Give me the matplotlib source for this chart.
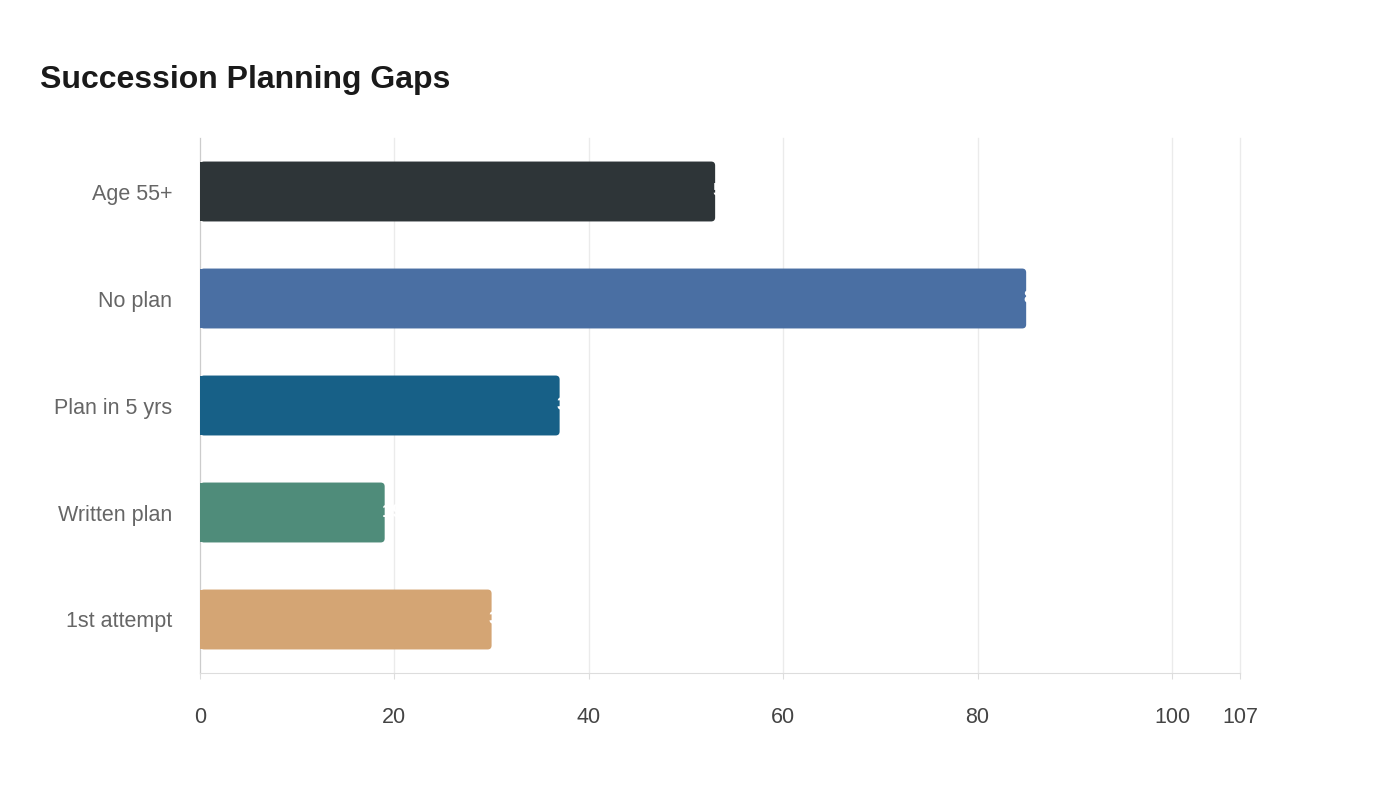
import numpy as np
import matplotlib.pyplot as plt
from matplotlib.patches import FancyBboxPatch

categories = ['Age 55+', 'No plan', 'Plan in 5 yrs', 'Written plan', '1st attempt']
values = [53, 85, 37, 19, 30]
colors = ['#2e3538', '#4a6fa3', '#176087', '#4f8c7a', '#d4a574']
xticks = [0, 20, 40, 60, 80, 100, 107]

plt.rcParams['font.family'] = ['Liberation Sans', 'DejaVu Sans']

fig = plt.figure(figsize=(14, 8), dpi=100)
ax = fig.add_axes([200/1400, 1-673/800, 1040/1400, 535/800])

y = np.arange(len(categories))
bars = ax.barh(y, values, height=0.56, color=colors)

# swap plain rectangles for ones with rounded corners
px_x = 1040 / 107
px_y = 535 / 5
r = 4 / px_x
for b, c in zip(bars, colors):
    x0, y0 = b.get_x(), b.get_y()
    w, h = b.get_width(), b.get_height()
    b.set_visible(False)
    p = FancyBboxPatch((x0 + r, y0 + r * px_x / px_y), w - 2*r, h - 2*r * px_x / px_y,
                       boxstyle='round,pad=%f' % r, mutation_aspect=px_x / px_y,
                       facecolor=c, edgecolor='none', zorder=3)
    ax.add_patch(p)
    ax.add_patch(plt.Rectangle((0, y0), r * 2, h, facecolor=c, edgecolor='none', zorder=3))

# value labels sit at the bar end, white (mostly lost on the background)
for yi, v in zip(y, values):
    ax.annotate(str(v), (v, yi), xytext=(-3, 0), textcoords='offset pixels',
                color='white', fontsize=14, fontweight='bold',
                ha='left', va='center', zorder=4)

ax.set_xlim(0, 107)
ax.set_ylim(4.5, -0.5)
ax.set_yticks(y)
ax.set_yticklabels(categories, fontsize=15.5, color='#666666')
ax.set_xticks(xticks)
ax.set_xticklabels([str(t) for t in xticks], fontsize=15.5, color='#444444')
ax.tick_params(axis='y', length=0, pad=20)
ax.tick_params(axis='x', length=4.5, color='#dddddd', pad=20)
ax.grid(axis='x', color='#ebebeb', linewidth=1)
for gl in ax.get_xgridlines():
    gl.set_clip_on(False)
ax.set_axisbelow(True)
for s in ['top', 'right']:
    ax.spines[s].set_visible(False)
ax.spines['left'].set_color('#cccccc')
ax.spines['bottom'].set_color('#dddddd')

fig.text(40/1400, 1-80/800, 'Succession Planning Gaps', fontsize=23, fontweight='bold',
         color='#1a1a1a', ha='left', va='center')

fig.savefig('out.png', dpi=100, facecolor='white')
